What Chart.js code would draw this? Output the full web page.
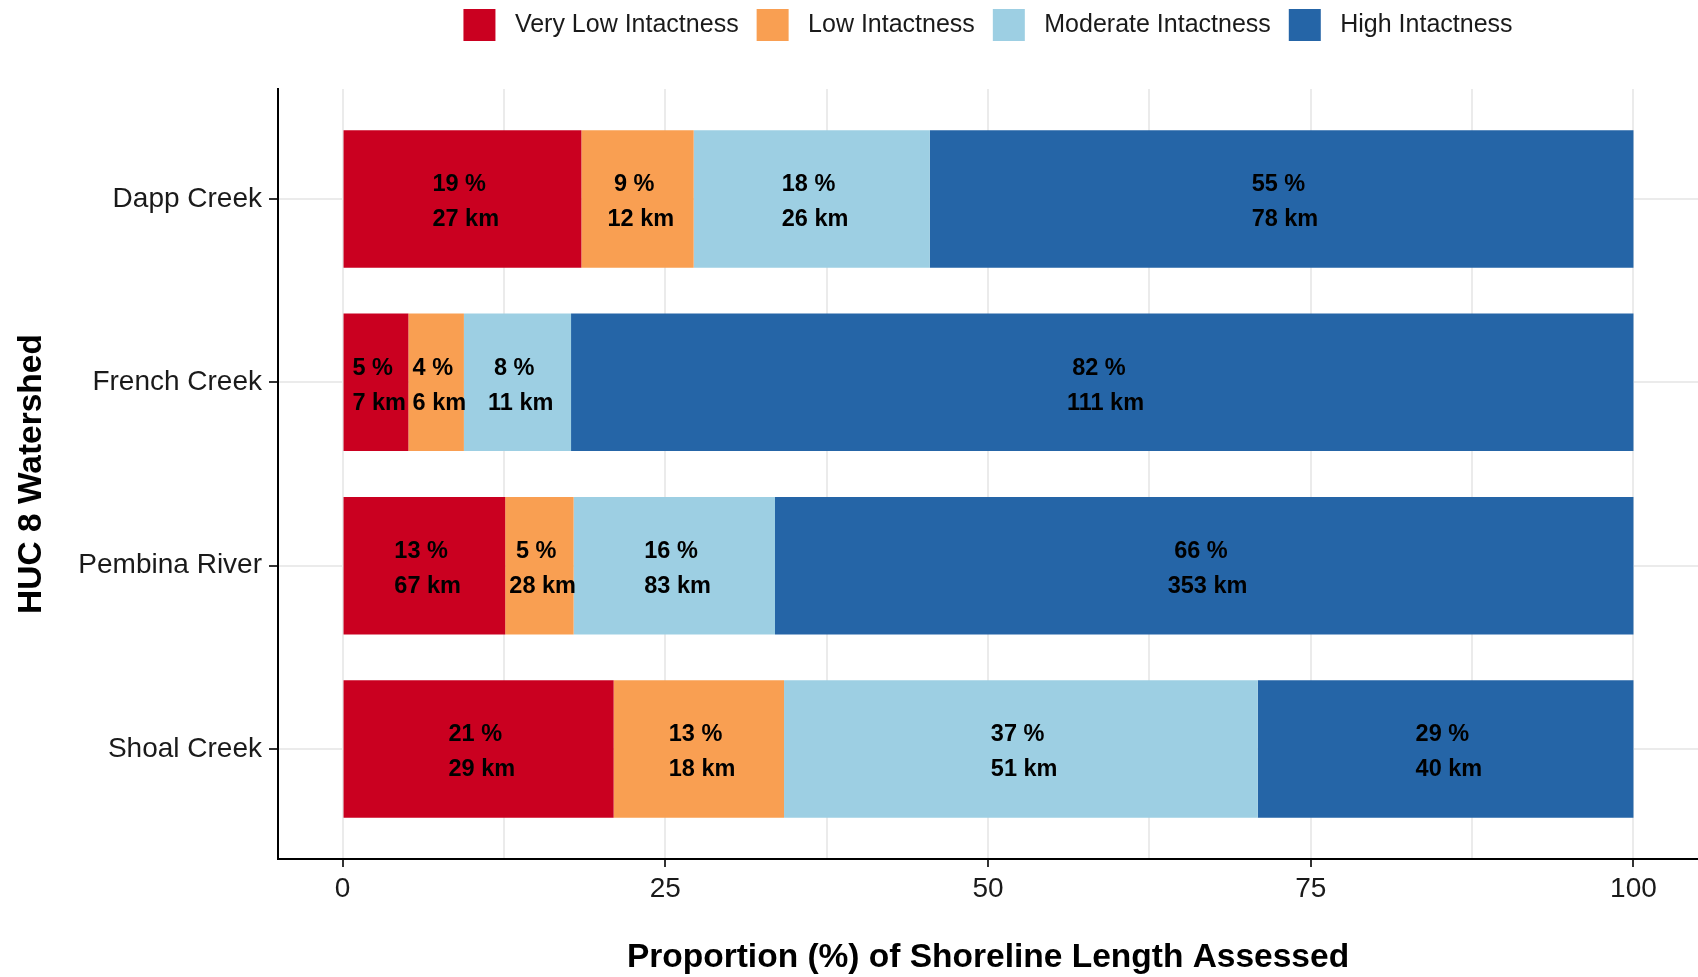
<!DOCTYPE html>
<html>
<head>
<meta charset="utf-8">
<title>Shoreline intactness by HUC 8 watershed</title>
<script src="https://cdn.jsdelivr.net/npm/chart.js@4.4.0/dist/chart.umd.min.js"></script>
<style>
  html, body { margin: 0; padding: 0; background: #fff; }
  #wrap { width: 1698px; height: 977px; }
</style>
</head>
<body>
<div id="wrap"><canvas id="myChart"></canvas></div>
<script>
const watersheds = ['Dapp Creek', 'French Creek', 'Pembina River', 'Shoal Creek'];
const classes = ['Very Low Intactness', 'Low Intactness', 'Moderate Intactness', 'High Intactness'];
const colours = ['#ca0020', '#f99f52', '#9dcfe3', '#2565a7'];

// share (%) of shoreline per class
const veryLow = [18.5, 5.1, 12.6, 21.0];
const low = [8.7, 4.3, 5.3, 13.2];
const moderate = [18.3, 8.3, 15.6, 36.7];
const high = [54.5, 82.3, 66.5, 29.1];

// printed labels inside the bars
const veryLowPct = [19, 5, 13, 21];
const lowPct = [9, 4, 5, 13];
const moderatePct = [18, 8, 16, 37];
const highPct = [55, 82, 66, 29];
const veryLowKm = [27, 7, 67, 29];
const lowKm = [12, 6, 28, 18];
const moderateKm = [26, 11, 83, 51];
const highKm = [78, 111, 353, 40];

const xTicks = [0, 25, 50, 75, 100];
const xMinorTicks = [12.5, 37.5, 62.5, 87.5];

const series = [veryLow, low, moderate, high];
const pctLabels = [veryLowPct, lowPct, moderatePct, highPct];
const kmLabels = [veryLowKm, lowKm, moderateKm, highKm];

Chart.defaults.font.family = "'Liberation Sans', Arial, sans-serif";
Chart.defaults.color = '#1a1a1a';

const datasets = classes.map((name, k) => ({
    label: name,
    data: series[k].map((v, i) => ({x: v, y: i + 1})),
    backgroundColor: colours[k],
    borderWidth: 0,
    categoryPercentage: 1,
    barPercentage: 0.75
}));

// extra room under the legend, like the ggplot spacing
const legendSpace = {
    id: 'legendSpace',
    beforeLayout(chart) {
        const lg = chart.legend;
        if (!lg || lg._spaced) return;
        const fit = lg.fit;
        lg.fit = function () { fit.call(this); this.height = 98; };
        lg._spaced = true;
    }
};

// "19 %" / "27 km" text in the middle of each segment
const barText = {
    id: 'barText',
    afterDatasetsDraw(chart) {
        const ctx = chart.ctx;
        ctx.save();
        ctx.font = "bold 23.5px 'Liberation Sans', Arial, sans-serif";
        ctx.fillStyle = '#000';
        ctx.textAlign = 'center';
        ctx.textBaseline = 'middle';
        chart.data.datasets.forEach((ds, d) => {
            chart.getDatasetMeta(d).data.forEach((bar, i) => {
                const cx = (bar.x + bar.base) / 2;
                ctx.fillText(pctLabels[d][i] + ' % ', cx, bar.y - 14);
                ctx.fillText(' ' + kmLabels[d][i] + ' km', cx, bar.y + 21);
            });
        });
        ctx.restore();
    }
};

const ctx = document.getElementById('myChart').getContext('2d');
new Chart(ctx, {
    type: 'bar',
    data: {datasets},
    options: {
        indexAxis: 'y',
        responsive: true,
        maintainAspectRatio: false,
        animation: false,
        layout: {padding: {top: -9, left: 0, right: 0, bottom: 0}},
        plugins: {
            tooltip: {enabled: false},
            legend: {
                position: 'top',
                align: 'center',
                fullSize: false,
                labels: {
                    boxWidth: 32,
                    boxHeight: 32,
                    padding: 18,
                    color: '#1a1a1a',
                    font: {size: 25},
                    generateLabels: chart => Chart.defaults.plugins.legend.labels.generateLabels(chart)
                        .map(item => Object.assign(item, {text: ' ' + item.text}))
                }
            }
        },
        scales: {
            x: {
                type: 'linear',
                min: -5,
                max: 105,
                stacked: true,
                afterBuildTicks: s => {
                    s.ticks = xTicks.concat(xMinorTicks).sort((a, b) => a - b).map(v => ({value: v}));
                },
                afterFit: s => { s.height = 118; },
                ticks: {
                    autoSkip: false,
                    maxRotation: 0,
                    padding: 5,
                    color: '#1a1a1a',
                    font: {size: 28},
                    callback: v => xTicks.includes(v) ? String(v) : ''
                },
                grid: {
                    color: '#ebebeb',
                    lineWidth: 2,
                    tickLength: 8,
                    tickWidth: 2,
                    tickColor: c => xTicks.includes(c.tick.value) ? '#333' : 'rgba(0,0,0,0)'
                },
                border: {display: true, color: '#000', width: 2},
                title: {
                    display: true,
                    text: 'Proportion (%) of Shoreline Length Assessed',
                    color: '#000',
                    font: {size: 33.5, weight: 'bold'},
                    padding: {top: 0, bottom: -1}
                }
            },
            y: {
                type: 'linear',
                reverse: true,
                min: 0.4,
                max: 4.6,
                offset: false,
                stacked: true,
                afterBuildTicks: s => {
                    s.ticks = watersheds.map((w, i) => ({value: i + 1}));
                },
                afterFit: s => { s.width = 278; },
                ticks: {
                    autoSkip: false,
                    padding: 7,
                    color: '#1a1a1a',
                    font: {size: 28},
                    callback: v => watersheds[v - 1]
                },
                grid: {
                    offset: false,
                    color: '#ebebeb',
                    lineWidth: 2,
                    tickLength: 9,
                    tickWidth: 2,
                    tickColor: '#333'
                },
                border: {display: true, color: '#000', width: 2},
                title: {
                    display: true,
                    text: 'HUC 8 Watershed',
                    color: '#000',
                    font: {size: 33.5, weight: 'bold'},
                    padding: {top: 12, bottom: 0}
                }
            }
        }
    },
    plugins: [legendSpace, barText]
});
</script>
</body>
</html>
